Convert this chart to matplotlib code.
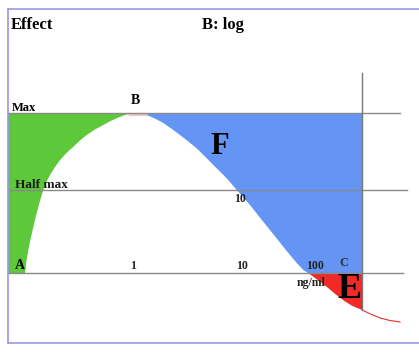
import numpy as np
import matplotlib.pyplot as plt
from matplotlib.patches import Polygon

# dose-response curve, x in diagram units (left to right), effect 0 = baseline, 1 = max
curve_x = np.array([25, 26.5, 28.3, 30.8, 33.3, 35.8, 38.3, 40.8, 43.3, 46.5, 50,
                    55, 60, 66.5, 73.3, 80, 86.7, 95, 103.3, 110, 116.7, 122.5,
                    128.3, 133, 138, 144, 150, 156.5, 163.3, 171.5, 180, 188.3,
                    196.7, 205, 213.3, 220, 226.7, 231.7, 236.7, 243.3, 250,
                    256.7, 263.3, 270, 276.7, 283.3, 290, 296.7, 303.3, 310,
                    318, 327, 335, 343, 352, 362, 371, 380, 390, 400])
curve_effect = np.array([0.0, 0.075, 0.144, 0.218, 0.288, 0.352, 0.413, 0.468,
                         0.519, 0.568, 0.613, 0.662, 0.706, 0.75, 0.789, 0.828,
                         0.8625, 0.897, 0.925, 0.948, 0.967, 0.982, 0.994, 0.999,
                         1.0, 0.993, 0.979, 0.96, 0.9375, 0.902, 0.8625, 0.822,
                         0.779, 0.728, 0.675, 0.634, 0.592, 0.556, 0.519, 0.472,
                         0.425, 0.372, 0.32, 0.268, 0.216, 0.164, 0.1125, 0.063,
                         0.019, -0.008, -0.045, -0.0875, -0.13, -0.169, -0.205,
                         -0.231, -0.258, -0.281, -0.297, -0.306])

max_level = 1.0
half_level = 0.52
peak_x = 138
zero_x = 310
region_right = 362

dose_ticks = [133, 242, 315]
dose_labels = ['1', '10', '100']

fig = plt.figure(figsize=(4.19, 3.61), dpi=100)
ax = fig.add_axes([0, 0, 1, 1])
ax.set_xlim(0, 419)
ax.set_ylim(-0.55, 1.70625)
ax.axis('off')

serif = 'Liberation Serif'

# 塗りつぶし領域
left = curve_x <= peak_x
mid = (curve_x >= peak_x) & (curve_x <= zero_x)
low = (curve_x >= zero_x) & (curve_x <= region_right)

green_pts = [(8, max_level), (8, 0)] + list(zip(curve_x[left], curve_effect[left]))
ax.add_patch(Polygon(green_pts, closed=True, facecolor='#5cc83a', edgecolor='none'))

blue_pts = list(zip(curve_x[mid], curve_effect[mid])) + [(zero_x, 0), (region_right, 0), (region_right, max_level)]
ax.add_patch(Polygon(blue_pts, closed=True, facecolor='#6495f5', edgecolor='none'))

red_pts = [(zero_x, 0)] + list(zip(curve_x[low], curve_effect[low])) + [(region_right, 0)]
ax.add_patch(Polygon(red_pts, closed=True, facecolor='#f02a26', edgecolor='none'))

# B付近の小さなピンク
ax.plot([128, 147], [max_level - 0.008, max_level - 0.008], color='#f2c4c0', lw=2.2,
        solid_capstyle='butt')

# 曲線の続き
tail = curve_x >= region_right
ax.plot(curve_x[tail], curve_effect[tail], color='#e8302a', lw=0.8)

# 水平線・垂直線
ax.plot([8, 400], [max_level, max_level], color='#8a8a8a', lw=1.0)
ax.plot([8, 407], [half_level, half_level], color='#8a8a8a', lw=1.0)
ax.plot([8, 403], [0, 0], color='#8a8a8a', lw=1.0)
ax.plot([region_right, region_right], [1.25, -0.231], color='#777777', lw=1.0)

# 枠
frame_color = '#9a9ae6'
ax.plot([8, 419], [1.65, 1.65], color=frame_color, lw=1.2)
ax.plot([8, 419], [-0.4375, -0.4375], color=frame_color, lw=1.2)
ax.plot([8, 8], [1.65, -0.4375], color=frame_color, lw=1.2)

# テキスト
ax.text(11, 1.55, 'Effect', family=serif, fontweight='bold', fontsize=12,
        ha='left', va='center')
ax.text(202, 1.55, 'B: log', family=serif, fontweight='bold', fontsize=12,
        ha='left', va='center')
ax.text(12, 1.033, 'Max', family=serif, fontweight='bold', fontsize=9,
        ha='left', va='center')
ax.text(135, 1.075, 'B', family=serif, fontweight='bold', fontsize=10,
        ha='center', va='center')
ax.text(220, 0.7875, 'F', family=serif, fontweight='bold', fontsize=22,
        ha='center', va='center')
ax.text(15, 0.55, 'Half max', family=serif, fontweight='bold', fontsize=9.5,
        ha='left', va='center', color='#1a1a1a')
ax.text(240, 0.4625, '10', family=serif, fontweight='bold', fontsize=8.5,
        ha='center', va='center', color='#222222')
ax.text(20, 0.044, 'A', family=serif, fontweight='bold', fontsize=10,
        ha='center', va='center')
for pos, lab in zip(dose_ticks, dose_labels):
    ax.text(pos, 0.045, lab, family=serif, fontweight='bold', fontsize=8.5,
            ha='center', va='center', color='#222222')
ax.text(344, 0.0625, 'C', family=serif, fontweight='bold', fontsize=9,
        ha='center', va='center', color='#333333')
ax.text(311, -0.0625, 'ng/ml', family=serif, fontweight='bold', fontsize=8.5,
        ha='center', va='center', color='#222222')
ax.text(349, -0.106, 'E', family=serif, fontweight='bold', fontsize=26,
        ha='center', va='center')

fig.savefig('out.png', dpi=100)
